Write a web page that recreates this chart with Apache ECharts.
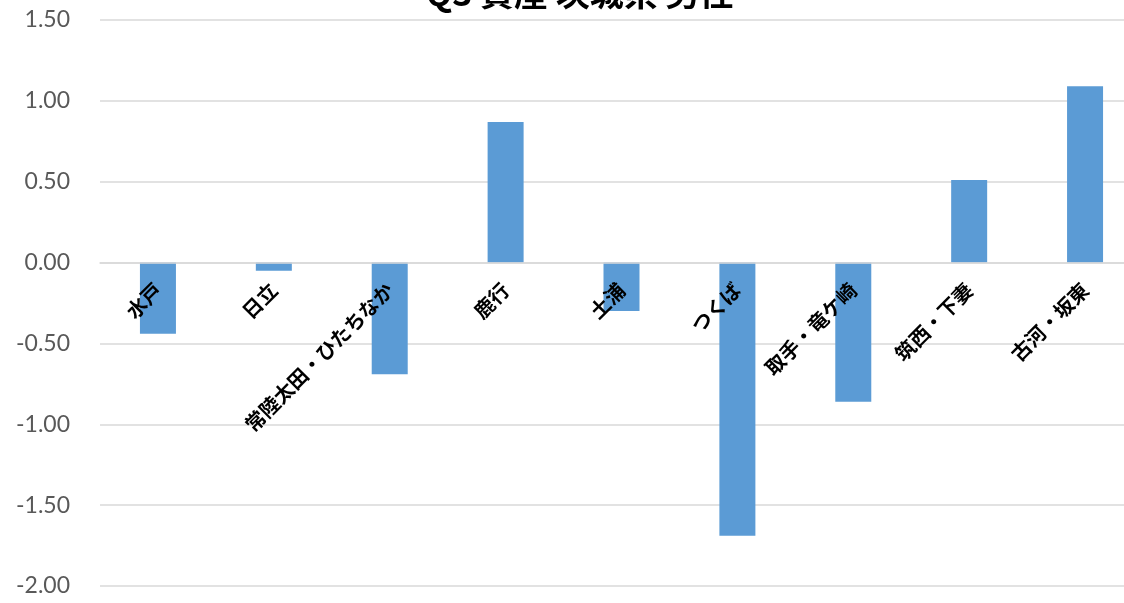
<!DOCTYPE html>
<html>
<head>
<meta charset="utf-8">
<script src="https://cdn.jsdelivr.net/npm/echarts@6/dist/echarts.min.js"></script>
<style>
html,body{margin:0;padding:0;background:#fff;}
#c{width:1124px;height:603px;}
</style>
</head>
<body>
<div id="c"></div>
<script>
const titleText = "Q3 資産 茨城県 男性";
const categories = ["水戸", "日立", "常陸太田・ひたちなか", "鹿行", "土浦", "つくば", "取手・竜ケ崎", "筑西・下妻", "古河・坂東"];
const values = [-0.44, -0.05, -0.69, 0.87, -0.30, -1.69, -0.86, 0.51, 1.09];
const yMin = -2.0, yMax = 1.5, yStep = 0.5;

const gridTop = 20, gridHeight = 566;
// distance from the bottom of the plot to the zero value, via the axis range
const zeroOffset = -gridHeight * (0 - yMin) / (yMax - yMin);

const chart = echarts.init(document.getElementById('c'), null, {renderer: 'canvas'});
chart.setOption({
  animation: false,
  backgroundColor: '#ffffff',
  title: {
    text: titleText,
    left: 426,
    top: -24,
    padding: 0,
    textStyle: {fontSize: 34, fontWeight: 'bold', color: '#000000', fontFamily: '"Noto Sans CJK JP", sans-serif'}
  },
  grid: {left: 100, top: gridTop, width: 1043, height: gridHeight, containLabel: false, outerBoundsMode: 'none'},
  xAxis: {
    type: 'category',
    data: categories,
    position: 'bottom',
    offset: zeroOffset,
    z: 10,
    axisLine: {show: true, onZero: false, lineStyle: {color: '#d9d9d9', width: 1.5}},
    axisTick: {show: false},
    axisLabel: {
      interval: 0,
      rotate: 45,
      margin: 24,
      color: '#000000',
      fontSize: 20,
      fontWeight: 'bold',
      fontFamily: '"Noto Sans CJK JP", sans-serif'
    },
    splitLine: {show: false}
  },
  yAxis: {
    type: 'value',
    min: yMin,
    max: yMax,
    interval: yStep,
    axisLine: {show: false},
    axisTick: {show: false},
    axisLabel: {
      margin: 30,
      color: '#595959',
      fontSize: 23,
      fontFamily: 'Lato, sans-serif',
      formatter: v => v.toFixed(2)
    },
    splitLine: {show: true, lineStyle: {color: '#d9d9d9', width: 1.5}}
  },
  series: [{
    type: 'bar',
    data: values,
    barWidth: 36,
    z: 2,
    itemStyle: {color: '#5B9BD5'}
  }]
});
</script>
</body>
</html>
